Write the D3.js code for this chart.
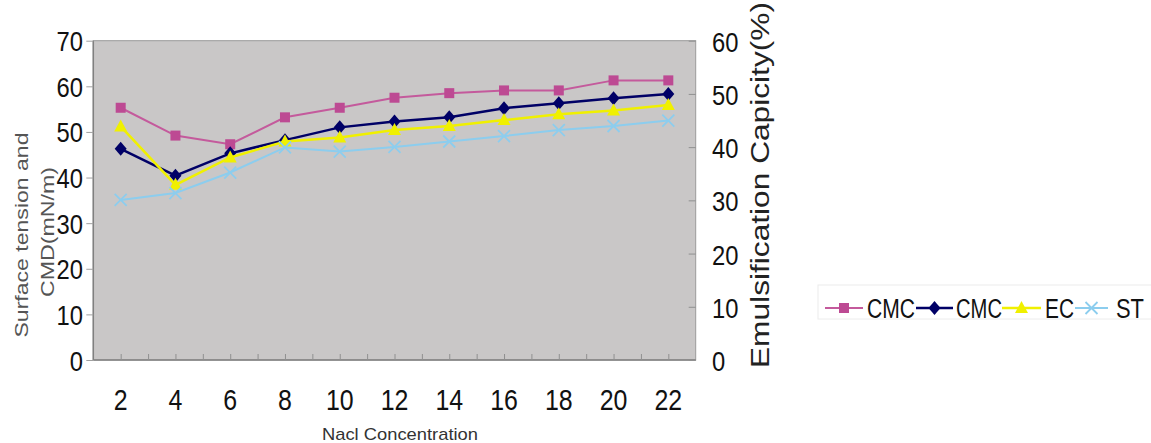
<!DOCTYPE html>
<html><head><meta charset="utf-8">
<script src="https://cdn.jsdelivr.net/npm/d3@7/dist/d3.min.js"></script>
<style>html,body{margin:0;padding:0;background:#fff;}svg{display:block;}</style>
</head><body>
<svg id="chart" width="1151" height="443"></svg>
<script>
const categories = [2, 4, 6, 8, 10, 12, 14, 16, 18, 20, 22];
const cmcA = [55.3, 49.2, 47.3, 53.2, 55.3, 57.5, 58.5, 59.1, 59.1, 61.3, 61.3];
const cmcB = [46.3, 40.4, 45.3, 48.2, 51.0, 52.3, 53.2, 55.2, 56.3, 57.4, 58.3];
const ec   = [51.2, 38.4, 44.4, 47.9, 48.8, 50.4, 51.3, 52.6, 53.9, 54.7, 55.9];
const st   = [35.1, 36.6, 41.1, 46.6, 45.7, 46.7, 47.9, 49.1, 50.4, 51.3, 52.5];
const seriesNames = ["CMC", "CMC", "EC", "ST"];
const leftTicks = [0, 10, 20, 30, 40, 50, 60, 70];
const rightTicks = [0, 10, 20, 30, 40, 50, 60];
const xTitle = "Nacl Concentration";
const yTitle1 = "Surface tension and";
const yTitle2 = "CMD(mN/m)";
const y2Title = "Emulsification Capicity(%)";

const svg = d3.select("#chart");
const FONT = "'Liberation Sans', Arial, sans-serif";
const L = 93.3, R = 695.7, T = 40.7, B = 360;

const x = d3.scaleLinear().domain([1, 23]).range([L, R]);
const y = d3.scaleLinear().domain([0, 70]).range([B, T]);
const y2 = d3.scaleLinear().domain([0, 60]).range([B, T]);

// plot area
svg.append("rect").attr("x", L).attr("y", T).attr("width", R - L).attr("height", B - T)
  .attr("fill", "#c9c7c7").attr("stroke", "#9a9a9a").attr("stroke-width", 1);
svg.append("line").attr("x1", L).attr("x2", L).attr("y1", T).attr("y2", B).attr("stroke", "#808080").attr("stroke-width", 1.5);
svg.append("line").attr("x1", L).attr("x2", R).attr("y1", B).attr("y2", B).attr("stroke", "#808080").attr("stroke-width", 1.5);

function label(px, py, txt, size, sx, anchor, color) {
  svg.append("g").attr("transform", `translate(${px},${py}) scale(${sx},1)`)
    .append("text").attr("text-anchor", anchor).attr("font-family", FONT)
    .attr("font-size", size).attr("fill", color || "#111").text(txt);
}

// left axis
const gl = svg.append("g").attr("transform", `translate(${L},0)`)
  .call(d3.axisLeft(y).tickValues(leftTicks).tickSize(7).tickFormat(""));
gl.select(".domain").remove();
gl.selectAll(".tick line").attr("stroke", "#a0a0a0");
leftTicks.forEach(v => label(83, y(v) + 10.5, String(v), 27, 0.88, "end"));

// right axis (ticks inward)
const gr = svg.append("g").attr("transform", `translate(${R},0)`)
  .call(d3.axisLeft(y2).tickValues(rightTicks).tickSize(7).tickFormat(""));
gr.select(".domain").remove();
gr.selectAll(".tick line").attr("stroke", "#909090");
rightTicks.forEach(v => label(712, y2(v) + 11, String(v), 27, 0.88, "start"));

// bottom axis (ticks inward, every unit)
const gb = svg.append("g").attr("transform", `translate(0,${B})`)
  .call(d3.axisTop(x).tickValues(d3.range(2, 23)).tickSize(6).tickFormat(""));
gb.select(".domain").remove();
gb.selectAll(".tick line").attr("stroke", "#909090");
categories.forEach(v => label(x(v), 410, String(v), 29, 0.86, "middle"));

// titles
svg.append("text").attr("x", 400).attr("y", 440).attr("text-anchor", "middle")
  .attr("font-family", FONT).attr("font-size", 17).attr("fill", "#333")
  .attr("textLength", 156).attr("lengthAdjust", "spacingAndGlyphs").text(xTitle);
svg.append("text").attr("transform", "translate(28,235) rotate(-90)").attr("text-anchor", "middle")
  .attr("font-family", FONT).attr("font-size", 18).attr("fill", "#555")
  .attr("textLength", 205).attr("lengthAdjust", "spacingAndGlyphs").text(yTitle1);
svg.append("text").attr("transform", "translate(54,232) rotate(-90)").attr("text-anchor", "middle")
  .attr("font-family", FONT).attr("font-size", 18).attr("fill", "#555")
  .attr("textLength", 130).attr("lengthAdjust", "spacingAndGlyphs").text(yTitle2);
svg.append("text").attr("transform", "translate(769,185) rotate(-90)").attr("text-anchor", "middle")
  .attr("font-family", FONT).attr("font-size", 25).attr("fill", "#222")
  .attr("textLength", 366).attr("lengthAdjust", "spacingAndGlyphs").text(y2Title);

// markers
function marker(g, type, cx, cy, color) {
  if (type === "square") {
    g.append("rect").attr("x", cx - 5).attr("y", cy - 5).attr("width", 10).attr("height", 10).attr("fill", color);
  } else if (type === "diamond") {
    g.append("path").attr("d", `M${cx},${cy-7}L${cx+6},${cy}L${cx},${cy+7}L${cx-6},${cy}Z`).attr("fill", color);
  } else if (type === "triangle") {
    g.append("path").attr("d", `M${cx},${cy-7}L${cx+6.5},${cy+5}L${cx-6.5},${cy+5}Z`).attr("fill", color);
  } else {
    g.append("path").attr("d", `M${cx-6},${cy-6}L${cx+6},${cy+6}M${cx-6},${cy+6}L${cx+6},${cy-6}`)
      .attr("stroke", color).attr("stroke-width", 1.8).attr("fill", "none");
  }
}

const series = [
  {vals: cmcA, color: "#bd4a93", line: "#c45a9c", w: 2, type: "square"},
  {vals: cmcB, color: "#000066", line: "#000066", w: 2.5, type: "diamond"},
  {vals: ec,   color: "#f0f000", line: "#f0f000", w: 2.5, type: "triangle"},
  {vals: st,   color: "#8ccdee", line: "#8ccdee", w: 2, type: "x"}
];

const lineGen = d3.line().x(d => x(d[0])).y(d => y(d[1]));
series.forEach(s => {
  const pts = categories.map((c, i) => [c, s.vals[i]]);
  const g = svg.append("g");
  g.append("path").attr("d", lineGen(pts)).attr("fill", "none").attr("stroke", s.line).attr("stroke-width", s.w);
  pts.forEach(p => marker(g, s.type, x(p[0]), y(p[1]), s.color));
});

// legend
svg.append("rect").attr("x", 818).attr("y", 285).attr("width", 340).attr("height", 34)
  .attr("fill", "none").attr("stroke", "#ececec");
const legendItems = [
  {x1: 825, x2: 863, tx: 867, tw: 48},
  {x1: 916, x2: 953, tx: 956, tw: 46},
  {x1: 1002, x2: 1041, tx: 1045, tw: 29},
  {x1: 1075, x2: 1108, tx: 1116, tw: 28}
];
legendItems.forEach((it, i) => {
  const s = series[i];
  const g = svg.append("g");
  g.append("line").attr("x1", it.x1).attr("x2", it.x2).attr("y1", 308).attr("y2", 308)
    .attr("stroke", s.line).attr("stroke-width", s.w);
  marker(g, s.type, (it.x1 + it.x2) / 2, 308, s.color);
  g.append("text").attr("x", it.tx).attr("y", 318).attr("font-family", FONT).attr("font-size", 27)
    .attr("fill", "#111").attr("textLength", it.tw).attr("lengthAdjust", "spacingAndGlyphs").text(seriesNames[i]);
});
</script>
</body></html>
